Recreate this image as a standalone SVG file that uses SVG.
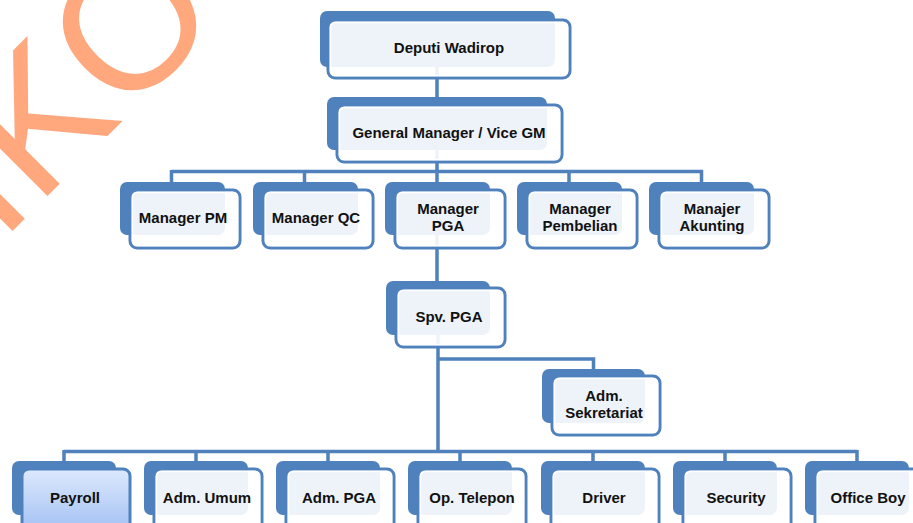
<svg xmlns="http://www.w3.org/2000/svg" width="913" height="523" viewBox="0 0 913 523">
<defs>
<style>
.back{fill:#4F81BD;}
.front{fill:#FFFFFF;fill-opacity:0.9;stroke:#4F81BD;stroke-width:3;}
.inner{fill:none;stroke:#FFFFFF;stroke-width:1.5;}
.pay{fill:url(#payGrad);stroke:#4F81BD;stroke-width:3;}
.lbl{font-family:"Liberation Sans",Arial,sans-serif;font-weight:bold;font-size:15px;fill:#111111;text-anchor:middle;}
.conn{stroke:#4F81BD;stroke-width:3.5;fill:none;}
.wm{font-family:"Liberation Sans",Arial,sans-serif;font-size:185px;fill:#FFA87E;}
</style>
<linearGradient id="payGrad" x1="0" y1="0" x2="0" y2="1">
<stop offset="0" stop-color="#DDE9FD"/>
<stop offset="1" stop-color="#A3C1F3"/>
</linearGradient>
</defs>
<rect width="913" height="523" fill="#FFFFFF"/>
<g id="watermark">
<text class="wm" transform="translate(0.5,243) rotate(-45)" x="0" y="0">IKO</text>
</g>
<g id="connectors">
<path class="conn" d="M437,67 V97"/>
<path class="conn" d="M437,150 V171.5 M171.5,171.5 H703 M171.5,170 V182 M304.5,170 V182 M437,170 V182 M569,170 V182 M701.5,170 V182"/>
<path class="conn" d="M437,235 V281"/>
<path class="conn" d="M438,335 V451.5 M438,359 H593.5 V369"/>
<path class="conn" d="M64,451.5 H857 M64,450 V461 M196,450 V461 M328,450 V461 M460,450 V461 M593,450 V461 M725,450 V461 M857,450 V461"/>
</g>
<g id="deputi">
<rect class="back" x="320" y="11" width="235" height="56" rx="7"/>
<rect class="front" x="328" y="20" width="242" height="58" rx="7"/>
<rect class="inner" x="330.5" y="22.5" width="237" height="53" rx="5"/>
<text class="lbl" x="449" y="53">Deputi Wadirop</text>
</g>
<g id="gm">
<rect class="back" x="327" y="97" width="220" height="53" rx="7"/>
<rect class="front" x="337" y="105" width="225" height="57" rx="7"/>
<rect class="inner" x="339.5" y="107.5" width="220" height="52" rx="5"/>
<text class="lbl" x="449" y="138">General Manager / Vice GM</text>
</g>
<g id="mgr-pm">
<rect class="back" x="120" y="182" width="105" height="53" rx="7"/>
<rect class="front" x="130" y="190" width="110" height="58" rx="7"/>
<rect class="inner" x="132.5" y="192.5" width="105" height="53" rx="5"/>
<text class="lbl" x="183" y="223">Manager PM</text>
</g>
<g id="mgr-qc">
<rect class="back" x="253" y="182" width="105" height="53" rx="7"/>
<rect class="front" x="263" y="190" width="110" height="58" rx="7"/>
<rect class="inner" x="265.5" y="192.5" width="105" height="53" rx="5"/>
<text class="lbl" x="316" y="223">Manager QC</text>
</g>
<g id="mgr-pga">
<rect class="back" x="385" y="182" width="105" height="53" rx="7"/>
<rect class="front" x="395" y="190" width="110" height="58" rx="7"/>
<rect class="inner" x="397.5" y="192.5" width="105" height="53" rx="5"/>
<text class="lbl" x="448" y="214">Manager</text>
<text class="lbl" x="448" y="231">PGA</text>
</g>
<g id="mgr-pembelian">
<rect class="back" x="517" y="182" width="105" height="53" rx="7"/>
<rect class="front" x="527" y="190" width="110" height="58" rx="7"/>
<rect class="inner" x="529.5" y="192.5" width="105" height="53" rx="5"/>
<text class="lbl" x="580" y="214">Manager</text>
<text class="lbl" x="580" y="231">Pembelian</text>
</g>
<g id="mgr-akunting">
<rect class="back" x="649" y="182" width="105" height="53" rx="7"/>
<rect class="front" x="659" y="190" width="110" height="58" rx="7"/>
<rect class="inner" x="661.5" y="192.5" width="105" height="53" rx="5"/>
<text class="lbl" x="712" y="214">Manajer</text>
<text class="lbl" x="712" y="231">Akunting</text>
</g>
<g id="spv-pga">
<rect class="back" x="386" y="281" width="104" height="54" rx="7"/>
<rect class="front" x="396" y="288" width="109" height="59" rx="7"/>
<rect class="inner" x="398.5" y="290.5" width="104" height="54" rx="5"/>
<text class="lbl" x="449" y="322">Spv. PGA</text>
</g>
<g id="adm-sekretariat">
<rect class="back" x="542" y="369" width="103" height="54" rx="7"/>
<rect class="front" x="552" y="376" width="108" height="59" rx="7"/>
<rect class="inner" x="554.5" y="378.5" width="103" height="54" rx="5"/>
<text class="lbl" x="604" y="401">Adm.</text>
<text class="lbl" x="604" y="418">Sekretariat</text>
</g>
<g id="payroll">
<rect class="back" x="12" y="461" width="104" height="54" rx="7"/>
<rect class="pay" x="22" y="469" width="108" height="62" rx="7"/>
<text class="lbl" x="75" y="503">Payroll</text>
</g>
<g id="adm-umum">
<rect class="back" x="144" y="461" width="104" height="54" rx="7"/>
<rect class="front" x="154" y="469" width="108" height="62" rx="7"/>
<rect class="inner" x="156.5" y="471.5" width="103" height="57" rx="5"/>
<text class="lbl" x="207" y="503">Adm. Umum</text>
</g>
<g id="adm-pga">
<rect class="back" x="276" y="461" width="104" height="54" rx="7"/>
<rect class="front" x="286" y="469" width="108" height="62" rx="7"/>
<rect class="inner" x="288.5" y="471.5" width="103" height="57" rx="5"/>
<text class="lbl" x="339" y="503">Adm. PGA</text>
</g>
<g id="op-telepon">
<rect class="back" x="408" y="461" width="104" height="54" rx="7"/>
<rect class="front" x="418" y="469" width="108" height="62" rx="7"/>
<rect class="inner" x="420.5" y="471.5" width="103" height="57" rx="5"/>
<text class="lbl" x="472" y="503">Op. Telepon</text>
</g>
<g id="driver">
<rect class="back" x="541" y="461" width="104" height="54" rx="7"/>
<rect class="front" x="551" y="469" width="108" height="62" rx="7"/>
<rect class="inner" x="553.5" y="471.5" width="103" height="57" rx="5"/>
<text class="lbl" x="604" y="503">Driver</text>
</g>
<g id="security">
<rect class="back" x="673" y="461" width="104" height="54" rx="7"/>
<rect class="front" x="683" y="469" width="108" height="62" rx="7"/>
<rect class="inner" x="685.5" y="471.5" width="103" height="57" rx="5"/>
<text class="lbl" x="736" y="503">Security</text>
</g>
<g id="office-boy">
<rect class="back" x="805" y="461" width="104" height="54" rx="7"/>
<rect class="front" x="815" y="469" width="108" height="62" rx="7"/>
<rect class="inner" x="817.5" y="471.5" width="103" height="57" rx="5"/>
<text class="lbl" x="868" y="503">Office Boy</text>
</g>
</svg>
